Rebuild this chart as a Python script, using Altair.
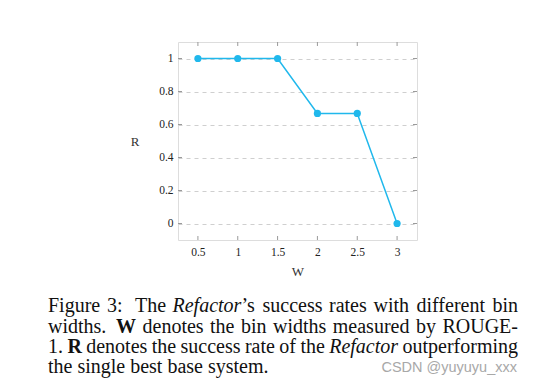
import altair as alt
import pandas as pd

W = [0.5, 1.0, 1.5, 2.0, 2.5, 3.0]
R = [1.0, 1.0, 1.0, 0.667, 0.667, 0.0]
x_ticks = [0.5, 1.0, 1.5, 2.0, 2.5, 3.0]
y_ticks = [0.0, 0.2, 0.4, 0.6, 0.8, 1.0]

df = pd.DataFrame({"W": W, "R": R})
dfx = pd.DataFrame({"t": x_ticks})
dfy = pd.DataFrame({"t": y_ticks})

PW, PH = 239, 198
OX, OY = 178, 42  # plot origin on page
LINE = "#20B8EC"
SERIF = "Liberation Serif"

xs = alt.Scale(domain=[0.25, 3.25], nice=False, zero=False)
ys = alt.Scale(domain=[-0.1, 1.1], nice=False, zero=False)

xaxis = alt.Axis(values=x_ticks, title="W", grid=False, domain=False, ticks=False,
                 format="~g", labelOverlap=False,
                 labelFont=SERIF, labelFontSize=11.5, labelColor="#222", labelPadding=6,
                 titleFont=SERIF, titleFontSize=13, titleFontWeight="normal",
                 titleColor="#333", titlePadding=8)
yaxis = alt.Axis(values=y_ticks, title="R", grid=True, gridDash=[4, 4], gridColor="#cfcfcf",
                 format="~g", labelOverlap=False,
                 domain=False, ticks=False, labelFont=SERIF, labelFontSize=11.5,
                 labelColor="#222", labelPadding=5, titleFont=SERIF, titleFontSize=13,
                 titleFontWeight="normal", titleColor="#333", titleAngle=0,
                 titleAlign="right", titleBaseline="middle", titleY=PH / 2, titleX=-39)

line = alt.Chart(df).mark_line(color=LINE, strokeWidth=1.5).encode(
    x=alt.X("W:Q", scale=xs, axis=xaxis),
    y=alt.Y("R:Q", scale=ys, axis=yaxis),
)
pts = alt.Chart(df).mark_point(filled=True, size=52, color=LINE, opacity=1).encode(
    x=alt.X("W:Q", scale=xs, axis=xaxis), y=alt.Y("R:Q", scale=ys, axis=yaxis))

TC = "#9a9a9a"
tb = alt.Chart(dfx).mark_rule(color=TC, strokeWidth=1).encode(
    x=alt.X("t:Q", scale=xs, axis=xaxis), y=alt.value(PH), y2=alt.value(PH - 4))
tt = alt.Chart(dfx).mark_rule(color=TC, strokeWidth=1).encode(
    x=alt.X("t:Q", scale=xs, axis=xaxis), y=alt.value(0), y2=alt.value(4))
tl = alt.Chart(dfy).mark_rule(color=TC, strokeWidth=1).encode(
    y=alt.Y("t:Q", scale=ys, axis=yaxis), x=alt.value(0), x2=alt.value(4))
tr = alt.Chart(dfy).mark_rule(color=TC, strokeWidth=1).encode(
    y=alt.Y("t:Q", scale=ys, axis=yaxis), x=alt.value(PW), x2=alt.value(PW - 4))

FS = 20
def txt(s, xp, yp, style="normal", weight="normal", align="left", font=SERIF,
        size=FS, color="#111"):
    return alt.Chart(alt.Data(values=[{}])).mark_text(
        text=s, font=font, fontSize=size, fontStyle=style, fontWeight=weight,
        align=align, baseline="alphabetic", color=color,
    ).encode(x=alt.value(xp - OX), y=alt.value(yp - OY))

RIGHT = 518
# caption: justified lines, word by word (word, left x, style)
lines = [
    (312, [("Figure", 48, ""), ("3:", 107, ""), ("The", 135, ""), ("Refactor", 172.5, "i"),
           ("\u2019s", 241.5, ""), ("success", 262.5, ""), ("rates", 329, ""),
           ("with", 373.5, ""), ("different", 416.5, ""), ("bin", None, "")]),
    (332.5, [("widths.", 48, ""), ("W", 116, "b"), ("denotes", 142.5, ""), ("the", 210, ""),
             ("bin", 241, ""), ("widths", 273, ""), ("measured", 332.8, ""),
             ("by", 415.9, ""), ("ROUGE-", None, "")]),
    (353, [("1.", 48, ""), ("R", 67.4, "b"), ("denotes", 86.2, ""), ("the", 151.7, ""),
           ("success", 180.5, ""), ("rate", 244.9, ""), ("of", 279.3, ""),
           ("the", 300.4, ""), ("Refactor", 329.2, "i"), ("outperforming", None, "")]),
    (373, [("the single best base system.", 48, "")]),
]
caption = []
for yb, words in lines:
    for w, xl, st in words:
        style = "italic" if st == "i" else "normal"
        weight = "bold" if st == "b" else "normal"
        if xl is None:
            caption.append(txt(w, RIGHT, yb, style=style, weight=weight, align="right"))
        else:
            caption.append(txt(w, xl, yb, style=style, weight=weight))
caption.append(txt("CSDN @yuyuyu_xxx", 517, 372, align="right", font="Liberation Sans",
                   size=14.5, color="#a8a8a8"))

chart = alt.layer(line, pts, tb, tt, tl, tr, *caption).properties(
    width=PW, height=PH,
    autosize=alt.AutoSizeParams(type="none"),
    padding={"left": OX - 8, "top": OY - 8, "right": 517 - (OX - 8) - PW,
             "bottom": 371 - (OY - 8) - PH},
).configure_view(stroke="#8a8a8a", strokeWidth=1.2).configure(background="white")

chart.save("out.html", embed_options={"renderer": "svg", "actions": False})
